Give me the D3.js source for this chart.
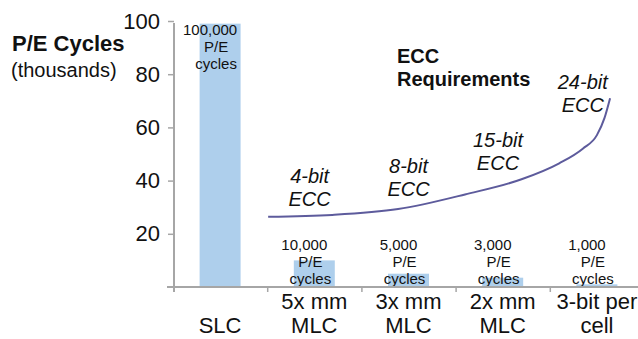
<!DOCTYPE html>
<html>
<head>
<meta charset="utf-8">
<script src="https://cdn.jsdelivr.net/npm/d3@7"></script>
<style>
  body { margin: 0; background: #fff; }
  svg { display: block; font-family: "Liberation Sans", Arial, sans-serif; }
</style>
</head>
<body>
<script>
// values (thousands of P/E cycles)
const categories = [["SLC"], ["5x mm", "MLC"], ["3x mm", "MLC"], ["2x mm", "MLC"], ["3-bit per", "cell"]];
const cycles = [99, 10, 5, 3.5, 1];
const cycleLabels = ["100,000", "10,000", "5,000", "3,000", "1,000"];
const yTicks = [20, 40, 60, 80, 100];

// ECC requirement curve, x in category index, y in axis units
const eccCurveIdx = [0.51, 1.19, 1.89, 2.6, 3.2, 3.6, 3.85, 4.0, 4.08, 4.14];
const eccCurveVal = [26.4, 27.1, 29.3, 34.8, 40.5, 46.5, 52, 57.1, 63.5, 71];
const eccLabels = ["4-bit", "8-bit", "15-bit", "24-bit"];
const eccLabelIdx = [0.95, 2.0, 2.95, 3.85];
const eccLabelVal = [39, 42.9, 52.6, 74.4];

function renderChart() {
    let w = 638, h = 339;

    let svg = d3.select("body").append("svg")
        .attr("width", w)
        .attr("height", h);

    let x = d3.scaleBand()
        .domain(d3.range(categories.length))
        .range([173, 644])
        .paddingInner(0.565)
        .paddingOuter(0.2825);

    // continuous index scale sharing the band centres
    let xi = d3.scaleLinear()
        .domain([-0.5, categories.length - 0.5])
        .range([173, 644]);

    let y = d3.scaleLinear()
        .domain([0, 100])
        .range([287, 21]);

    const axisColour = "#a6a6a6";

    // bars
    svg.append("g")
        .selectAll("rect")
        .data(cycles)
        .enter()
        .append("rect")
        .attr("x", function (d, i) { return x(i); })
        .attr("y", function (d) { return y(d); })
        .attr("width", x.bandwidth())
        .attr("height", function (d) { return y(0) - y(d); })
        .attr("fill", "#aecfec");

    // bar labels
    let labels = svg.append("g")
        .selectAll("text")
        .data(cycles)
        .enter()
        .append("text")
        .attr("text-anchor", "middle")
        .attr("font-size", 15)
        .attr("fill", "#111")
        .attr("transform", function (d, i) {
            let cx = x(i) + x.bandwidth() / 2 - 4;
            let top = d > 20 ? y(d) + 11 : y(0) - 37;
            return "translate(" + cx + "," + top + ")";
        });

    labels.each(function (d, i) {
        let t = d3.select(this);
        [cycleLabels[i], "P/E", "cycles"].forEach(function (line, k) {
            t.append("tspan")
                .attr("x", k === 0 ? -6 : 0)
                .attr("y", k * 17)
                .text(line);
        });
    });

    // y axis
    let yAxis = svg.append("g")
        .attr("transform", "translate(174,0)")
        .call(d3.axisLeft(y).tickValues(yTicks).tickSize(6).tickPadding(8).tickSizeOuter(0));
    yAxis.select(".domain").remove();
    yAxis.selectAll("line").attr("stroke", axisColour).attr("stroke-width", 1.5);
    yAxis.selectAll("text")
        .attr("font-size", 22)
        .attr("font-family", "Liberation Sans, Arial, sans-serif")
        .attr("fill", "#111");
    svg.append("line")
        .attr("x1", 174).attr("x2", 174)
        .attr("y1", y(100) + 2).attr("y2", y(0) + 5)
        .attr("stroke", axisColour)
        .attr("stroke-width", 2);

    // x axis with ticks between categories
    let xAxis = svg.append("g")
        .attr("transform", "translate(0," + y(0) + ")")
        .call(d3.axisBottom(xi)
            .tickValues(d3.range(0.5, categories.length - 1, 1))
            .tickSize(5)
            .tickSizeOuter(0)
            .tickFormat(""));
    xAxis.select(".domain").remove();
    xAxis.selectAll("line").attr("stroke", axisColour).attr("stroke-width", 1.5);
    svg.append("line")
        .attr("x1", 167).attr("x2", 638)
        .attr("y1", y(0)).attr("y2", y(0))
        .attr("stroke", axisColour)
        .attr("stroke-width", 2);

    // category labels
    let cats = svg.append("g")
        .selectAll("text")
        .data(categories)
        .enter()
        .append("text")
        .attr("text-anchor", "middle")
        .attr("font-size", 22)
        .attr("fill", "#111");
    cats.each(function (lines, i) {
        let t = d3.select(this);
        let cx = xi(i);
        lines.forEach(function (line, k) {
            t.append("tspan")
                .attr("x", cx)
                .attr("y", 333 - (lines.length - 1 - k) * 24)
                .text(line);
        });
    });

    // ECC curve
    let line = d3.line()
        .x(function (d) { return xi(d[0]); })
        .y(function (d) { return y(d[1]); })
        .curve(d3.curveMonotoneX);

    svg.append("path")
        .datum(d3.zip(eccCurveIdx, eccCurveVal))
        .attr("d", line)
        .attr("fill", "none")
        .attr("stroke", "#5d5b9c")
        .attr("stroke-width", 2);

    // ECC labels
    let ecc = svg.append("g")
        .selectAll("text")
        .data(eccLabels)
        .enter()
        .append("text")
        .attr("text-anchor", "middle")
        .attr("font-size", 20)
        .attr("font-style", "italic")
        .attr("fill", "#111");
    ecc.each(function (d, i) {
        let t = d3.select(this);
        let cx = xi(eccLabelIdx[i]);
        let cy = y(eccLabelVal[i]);
        [d, "ECC"].forEach(function (s, k) {
            t.append("tspan")
                .attr("x", cx)
                .attr("y", cy + k * 23)
                .text(s);
        });
    });

    // titles
    svg.append("text")
        .attr("x", 12).attr("y", 51)
        .attr("font-size", 22)
        .attr("font-weight", "bold")
        .attr("fill", "#111")
        .text("P/E Cycles");
    svg.append("text")
        .attr("x", 11).attr("y", 77)
        .attr("font-size", 20)
        .attr("fill", "#111")
        .text("(thousands)");

    let req = svg.append("text")
        .attr("font-size", 20)
        .attr("font-weight", "bold")
        .attr("fill", "#111");
    req.append("tspan").attr("x", 397).attr("y", 63).text("ECC");
    req.append("tspan").attr("x", 397).attr("y", 86).text("Requirements");
}

renderChart();
</script>
</body>
</html>
